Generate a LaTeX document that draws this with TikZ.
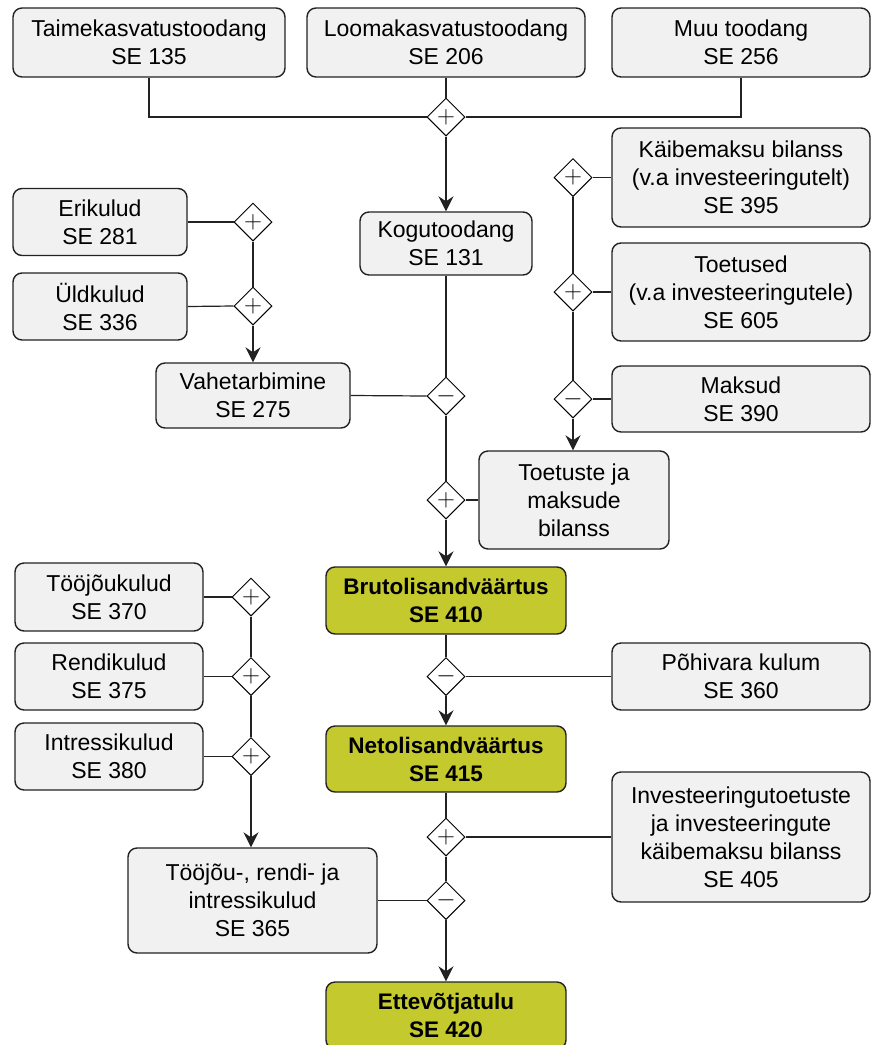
\documentclass[tikz,border=0pt]{standalone}
\usepackage{fontspec}
\setmainfont{Liberation Sans}
\usetikzlibrary{shapes.geometric,arrows.meta}
\definecolor{boxgrey}{HTML}{F1F1F1}
\definecolor{sumgreen}{HTML}{C4C92E}
\definecolor{edge}{HTML}{222222}
\tikzset{
  box/.style={draw=edge,fill=boxgrey,line width=1.4pt,rounded corners=9pt,align=center,inner sep=0pt,
    font=\fontsize{23}{28}\selectfont},
  sumbox/.style={box,fill=sumgreen,font=\fontsize{22.5}{28}\selectfont\bfseries},
  op/.style={draw=black,fill=white,diamond,aspect=1,minimum width=38pt,minimum height=38pt,inner sep=0pt,line width=1pt,
    font=\fontsize{24}{24}\selectfont},
  link/.style={draw=edge,line width=1.2pt},
  flow/.style={link,-{Stealth[length=15pt,width=15pt,inset=5pt]}}
}
\begin{document}
\begin{tikzpicture}[x=1pt,y=-1pt]
    \clip(0,0)rectangle(872,1045);
    %toodang
    \node[box,minimum width=272pt,minimum height=69pt](tai)at(149,42.5){Taimekasvatustoodang\\SE 135};
    \node[box,minimum width=278pt,minimum height=69pt](loom)at(446,42.5){Loomakasvatustoodang\\SE 206};
    \node[box,minimum width=258pt,minimum height=69pt](muu)at(741,42.5){Muu toodang\\SE 256};
    \node[box,minimum width=172pt,minimum height=63pt](kogu)at(446,243.5){Kogutoodang\\SE 131};
    %vahetarbimine
    \node[box,minimum width=174pt,minimum height=67pt](eri)at(100,222){Erikulud\\SE 281};
    \node[box,minimum width=174pt,minimum height=67pt](yld)at(100,306.5){Üldkulud\\SE 336};
    \node[box,minimum width=194pt,minimum height=65pt](vahe)at(253,395.5){Vahetarbimine\\SE 275};
    %toetused ja maksud
    \node[box,minimum width=258pt,minimum height=99pt](kaibe)at(741,177.5){Käibemaksu bilanss\\(v.a investeeringutelt)\\SE 395};
    \node[box,minimum width=258pt,minimum height=98pt](toet)at(741,292){Toetused\\(v.a investeeringutele)\\SE 605};
    \node[box,minimum width=258pt,minimum height=66pt](maks)at(741,399){Maksud\\SE 390};
    \node[box,minimum width=190pt,minimum height=98pt](tmb)at(574,500){Toetuste ja\\maksude\\bilanss};
    %lisandvaartus
    \node[sumbox,minimum width=240pt,minimum height=67pt](bruto)at(446,600.5){Brutolisandväärtus\\SE 410};
    \node[box,minimum width=258pt,minimum height=67pt](pohi)at(741,676.5){Põhivara kulum\\SE 360};
    \node[sumbox,minimum width=240pt,minimum height=66pt](neto)at(446,759){Netolisandväärtus\\SE 415};
    %toojou-, rendi- ja intressikulud
    \node[box,minimum width=188pt,minimum height=68pt](too)at(109,597){Tööjõukulud\\SE 370};
    \node[box,minimum width=188pt,minimum height=67pt](rendi)at(109,676.5){Rendikulud\\SE 375};
    \node[box,minimum width=188pt,minimum height=67pt](intr)at(109,756.5){Intressikulud\\SE 380};
    \node[box,minimum width=249pt,minimum height=105pt](tri)at(252.5,900.5){Tööjõu-, rendi- ja\\intressikulud\\SE 365};
    \node[box,minimum width=258pt,minimum height=130pt](inv)at(741,837){Investeeringutoetuste\\ja investeeringute\\käibemaksu bilanss\\SE 405};
    \node[sumbox,minimum width=240pt,minimum height=67pt](ette)at(446,1015.5){Ettevõtjatulu\\SE 420};
    %tehted
    \node[op](d1)at(446,117){$+$};
    \node[op](d2)at(253,222){$+$};
    \node[op](d3)at(253,306){$+$};
    \node[op](d4)at(446,396){$-$};
    \node[op](d5)at(573,177.5){$+$};
    \node[op](d6)at(573,292){$+$};
    \node[op](d7)at(573,399){$-$};
    \node[op](d8)at(446,500){$+$};
    \node[op](d9)at(446,676.5){$-$};
    \node[op](d10)at(251,597){$+$};
    \node[op](d11)at(251,676.5){$+$};
    \node[op](d12)at(251,756.5){$+$};
    \node[op](d13)at(446,837){$+$};
    \node[op](d14)at(446,900.5){$-$};
    %uhendused
    \draw[link](tai.south)|-(d1.west);
    \draw[link](loom.south)--(d1.north);
    \draw[link](muu.south)|-(d1.east);
    \draw[flow](d1.south)--(kogu.north);
    \draw[link](eri.east)--(d2.west);
    \draw[link](yld.east)--(d3.west);
    \draw[link](d2.south)--(d3.north);
    \draw[flow](d3.south)--(vahe.north);
    \draw[link](kogu.south)--(d4.north);
    \draw[link](vahe.east)--(d4.west);
    \draw[link](kaibe.west)--(d5.east);
    \draw[link](toet.west)--(d6.east);
    \draw[link](maks.west)--(d7.east);
    \draw[link](d5.south)--(d6.north);
    \draw[link](d6.south)--(d7.north);
    \draw[flow](d7.south)--(tmb.north-|d7.south);
    \draw[link](d4.south)--(d8.north);
    \draw[link](tmb.west)--(d8.east);
    \draw[flow](d8.south)--(bruto.north);
    \draw[link](bruto.south)--(d9.north);
    \draw[link](pohi.west)--(d9.east);
    \draw[flow](d9.south)--(neto.north);
    \draw[link](too.east)--(d10.west);
    \draw[link](rendi.east)--(d11.west);
    \draw[link](intr.east)--(d12.west);
    \draw[link](d10.south)--(d11.north);
    \draw[link](d11.south)--(d12.north);
    \draw[flow](d12.south)--(tri.north-|d12.south);
    \draw[link](neto.south)--(d13.north);
    \draw[link](inv.west)--(d13.east);
    \draw[link](d13.south)--(d14.north);
    \draw[link](tri.east)--(d14.west);
    \draw[flow](d14.south)--(ette.north);
\end{tikzpicture}
\end{document}
